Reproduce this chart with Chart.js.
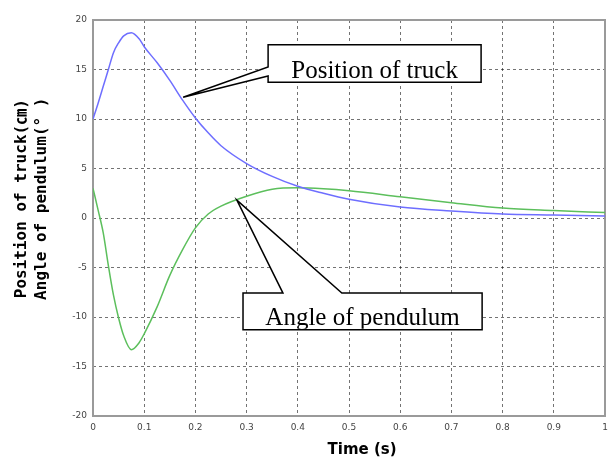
<!DOCTYPE html>
<html>
<head>
<meta charset="utf-8">
<script src="https://cdn.jsdelivr.net/npm/chart.js"></script>
<style>
  body { margin: 0; background: #fff; }
</style>
</head>
<body>
<canvas id="chart" width="608" height="467"></canvas>
<script>
// time axis (s)
const timeS = [0, 0.01, 0.02, 0.03, 0.04, 0.05, 0.06, 0.075, 0.09, 0.1, 0.125, 0.15, 0.175,
  0.2, 0.225, 0.25, 0.3, 0.35, 0.4, 0.45, 0.5, 0.6, 0.7, 0.8, 0.9, 1.0];
// position of truck (cm)
const truckCm = [10, 11.6, 13.3, 15.0, 16.7, 17.7, 18.4, 18.7, 18.1, 17.3, 15.7, 13.9, 11.9,
  10.1, 8.6, 7.3, 5.5, 4.2, 3.2, 2.5, 1.9, 1.1, 0.7, 0.4, 0.3, 0.2];
// angle of pendulum (deg)
const pendulumDeg = [3.0, 0.8, -1.5, -4.8, -7.8, -10.1, -11.9, -13.3, -12.6, -11.7, -9.0, -5.8, -3.2,
  -1.0, 0.4, 1.2, 2.2, 2.9, 3.05, 2.95, 2.75, 2.15, 1.55, 1.0, 0.75, 0.55];

const xRange = [0, 1];
const yRange = [-20, 20];

// callout outlines in data units (t, value)
const callouts = [
  {
    text: 'Position of truck',
    box: [0.342, 17.5, 0.758, 13.7],
    outline: [[0.342, 17.5], [0.758, 17.5], [0.758, 13.7], [0.342, 13.7], [0.342, 14.35], [0.176, 12.2], [0.342, 15.25]]
  },
  {
    text: 'Angle of pendulum',
    box: [0.293, -7.58, 0.760, -11.3],
    outline: [[0.293, -7.58], [0.371, -7.58], [0.281, 1.8], [0.486, -7.58], [0.760, -7.58], [0.760, -11.3], [0.293, -11.3]]
  }
];

const frame = {
  id: 'frame',
  beforeDatasetsDraw(chart) {
    const {ctx, chartArea: a} = chart;
    ctx.save();
    ctx.strokeStyle = '#9a9a9a';
    ctx.lineWidth = 2;
    ctx.strokeRect(a.left, a.top, a.right - a.left, a.bottom - a.top);
    ctx.restore();
  }
};

const calloutPlugin = {
  id: 'callouts',
  afterDatasetsDraw(chart) {
    const {ctx, scales: {x, y}} = chart;
    callouts.forEach(c => {
      ctx.save();
      ctx.beginPath();
      c.outline.forEach((p, i) => {
        const px = x.getPixelForValue(p[0]);
        const py = y.getPixelForValue(p[1]);
        if (i === 0) ctx.moveTo(px, py); else ctx.lineTo(px, py);
      });
      ctx.closePath();
      ctx.fillStyle = '#fff';
      ctx.fill();
      ctx.strokeStyle = '#000';
      ctx.lineWidth = 1.5;
      ctx.stroke();

      const l = x.getPixelForValue(c.box[0]);
      const t = y.getPixelForValue(c.box[1]);
      const r = x.getPixelForValue(c.box[2]);
      const b = y.getPixelForValue(c.box[3]);
      ctx.beginPath();
      ctx.rect(l, t, r - l, b - t - 1);
      ctx.clip();
      ctx.fillStyle = '#000';
      ctx.font = '25px "Liberation Serif", "Times New Roman", serif';
      ctx.textAlign = 'center';
      ctx.textBaseline = 'alphabetic';
      ctx.fillText(c.text, (l + r) / 2, b - 4.5);
      ctx.restore();
    });
  }
};

const xTitleFont = { family: '"DejaVu Sans", "Noto Sans CJK JP"', size: 15, weight: 'bold', lineHeight: 1.33 };
const yTitleFont = { family: '"DejaVu Sans Mono", "Noto Sans CJK JP"', size: 16, weight: 'bold', lineHeight: 1.25 };
const tickFont = { family: 'DejaVu Sans', size: 9 };

new Chart(document.getElementById('chart'), {
  type: 'line',
  data: {
    labels: timeS,
    datasets: [
      {
        label: 'Position of truck',
        data: timeS.map((t, i) => ({x: t, y: truckCm[i]})),
        borderColor: '#6e6eff',
        borderWidth: 1.5,
        pointRadius: 0,
        cubicInterpolationMode: 'monotone'
      },
      {
        label: 'Angle of pendulum',
        data: timeS.map((t, i) => ({x: t, y: pendulumDeg[i]})),
        borderColor: '#5cbf5c',
        borderWidth: 1.5,
        pointRadius: 0,
        cubicInterpolationMode: 'monotone'
      }
    ]
  },
  options: {
    responsive: false,
    animation: false,
    layout: { padding: { top: 20, right: 3 } },
    plugins: {
      legend: { display: false },
      tooltip: { enabled: false }
    },
    scales: {
      x: {
        type: 'linear',
        min: xRange[0],
        max: xRange[1],
        afterFit(scale) {
          scale.height = 51;
          scale.paddingLeft = 0;
          scale.paddingRight = 0;
        },
        ticks: {
          stepSize: 0.1,
          padding: 6,
          color: '#444',
          font: tickFont,
          callback: v => String(+v.toFixed(2))
        },
        grid: { color: 'rgba(0,0,0,0.55)', drawTicks: false },
        border: { display: false, dash: [3, 3] },
        title: {
          display: true,
          text: '     Time (s)',
          color: '#000',
          font: xTitleFont,
          padding: { top: 0, bottom: 7 }
        }
      },
      y: {
        min: yRange[0],
        max: yRange[1],
        afterFit(scale) { scale.width = 93; },
        ticks: {
          stepSize: 5,
          padding: 6,
          color: '#444',
          font: tickFont
        },
        grid: { color: 'rgba(0,0,0,0.55)', drawTicks: false },
        border: { display: false, dash: [3, 3] },
        title: {
          display: true,
          text: ['    Position of truck(㎝)', '    Angle of pendulum(° )'],
          color: '#000',
          font: yTitleFont,
          padding: { top: 12, bottom: 0 }
        }
      }
    }
  },
  plugins: [frame, calloutPlugin]
});
</script>
</body>
</html>
